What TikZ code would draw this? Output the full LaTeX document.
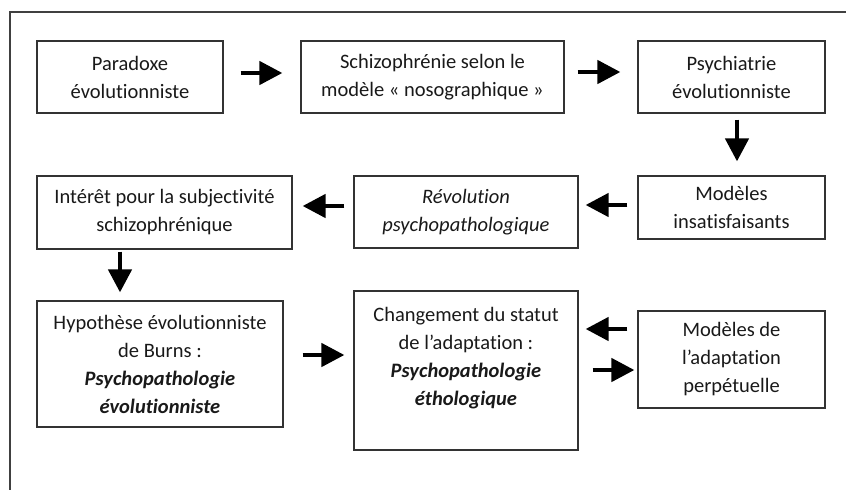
\documentclass[tikz,border=0pt]{standalone}
\usepackage{fontspec}
\setmainfont{Carlito}[Ligatures=NoCommon]
\usetikzlibrary{arrows.meta}
\tikzset{
  box/.style={draw=black!80, line width=1.2pt, align=center, inner sep=0pt,
    text=black!90, font=\fontsize{20.5}{28}\selectfont},
  arr/.style={line width=4.5pt, black, -{Triangle[length=23pt 0 0,width=23pt 0 0]}}
}
\newcommand{\bfit}[1]{\textbf{\textit{#1}}}

\begin{document}
\begin{tikzpicture}[x=1pt,y=-1pt]
\useasboundingbox (0,0) rectangle (846,490);
% frame, only top and left edges show
\draw[black!75, line width=1.2pt] (846,12) -- (10,12) -- (10,490);
% first row
\node[box, minimum width=186, minimum height=72] (para) at (130,77) {Paradoxe\\évolutionniste};
\node[box, minimum width=263, minimum height=72] (schizo) at (432.5,77) {Schizophrénie selon le\\modèle « nosographique »};
\node[box, minimum width=187, minimum height=72] (psy) at (731.5,77) {Psychiatrie\\évolutionniste};
% second row
\node[box, minimum width=187, minimum height=63] (insat) at (731.5,207.5) {Modèles\\insatisfaisants};
\node[box, minimum width=224, minimum height=72] (revo) at (466,212) {\textit{Révolution}\\\textit{psychopathologique}};
\node[box, minimum width=255, minimum height=73] (inter) at (164.5,212.5) {Intérêt pour la subjectivité\\schizophrénique};
% third row
\node[box, minimum width=246, minimum height=126] (burns) at (160,364) {Hypothèse évolutionniste\\de Burns :\\\bfit{Psychopathologie}\\\bfit{évolutionniste}};
\node[box, minimum width=224, minimum height=159] (statut) at (466,370.5) {Changement du statut\\de l’adaptation :\\\bfit{Psychopathologie}\\\bfit{éthologique}\\\mbox{}};
\node[box, minimum width=187, minimum height=97] (perp) at (731.5,359.5) {Modèles de\\l’adaptation\\perpétuelle};
% arrows
\draw[arr, shorten <=17pt, shorten >=18pt] ([yshift=4pt]para.east) -- ([yshift=4pt]schizo.west);
\draw[arr, shorten <=13pt, shorten >=17pt] ([yshift=5pt]schizo.east) -- ([yshift=5pt]psy.west);
\draw[arr, shorten <=6pt, shorten >=14pt] ([xshift=5.5pt]psy.south) -- ([xshift=5.5pt]insat.north);
\draw[arr, shorten <=10pt, shorten >=7pt] ([yshift=2.5pt]insat.west) -- ([yshift=7pt]revo.east);
\draw[arr, shorten <=9pt, shorten >=10pt] ([yshift=6pt]revo.west) -- ([yshift=6.5pt]inter.east);
\draw[arr, shorten <=2pt, shorten >=8pt] ([xshift=-44.5pt]inter.south) -- ([xshift=-40pt]burns.north);
\draw[arr, shorten <=19pt, shorten >=9pt] ([yshift=9pt]burns.east) -- ([yshift=15.5pt]statut.west);
\draw[arr, shorten <=10pt, shorten >=7pt] ([yshift=30.5pt]perp.west) -- ([yshift=41.5pt]statut.east);
\draw[arr, shorten <=14pt, shorten >=3pt] ([yshift=0.5pt]statut.east) -- ([yshift=-10.5pt]perp.west);
\end{tikzpicture}
\end{document}
